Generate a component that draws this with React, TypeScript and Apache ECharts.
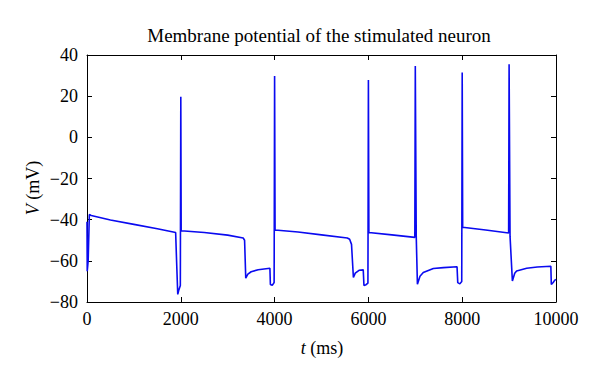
import React, { useEffect, useRef } from "react";
import * as echarts from "echarts";

const title = "Membrane potential of the stimulated neuron";
const xTicks = [0, 2000, 4000, 6000, 8000, 10000];
const yTicks = [-80, -60, -40, -20, 0, 20, 40];

// time (ms)
const timeMs = [
  0, 5, 25, 50, 90, 500, 1000, 1500, 1890, 1910, 1935, 1960, 1990, 2000, 2008,
  2500, 3000, 3330, 3360, 3385, 3430, 3500, 3650, 3900, 3910, 3950, 3990, 4000, 4010,
  4500, 5000, 5550, 5600, 5640, 5680, 5720, 5800, 5890, 5905, 5950, 5990, 6000, 6010,
  6500, 6990, 7000, 7020, 7045, 7100, 7170, 7385, 7600, 7890, 7905, 7950, 7990, 8000, 8010,
  8500, 8990, 9000, 9020, 9070, 9120, 9160, 9375, 9600, 9890, 9900, 9940, 9970, 10000,
];
// membrane potential (mV)
const potentialMv = [
  -41, -65, -60, -37.5, -38, -40.2, -42.3, -44.4, -46.2, -60, -76.3, -74, -72, 19.7, -45.4,
  -46.2, -47.5, -48.9, -50, -68.4, -66.5, -65.3, -64.3, -63.6, -71.5, -71.9, -70.5, 29.8, -45,
  -46, -47.4, -48.9, -49.5, -52, -68.1, -66, -64.6, -64.4, -72, -71.6, -70.8, 27.8, -46.2,
  -47.4, -48.6, 34.6, -48, -71.4, -67.5, -65.7, -63.7, -63.3, -62.9, -70.6, -71.2, -70, 31.5, -43.7,
  -45, -46.5, 35.5, -48, -69.8, -66, -64.9, -63.6, -63, -62.6, -71.5, -70.5, -69.5, -69,
];

const FONT = "Liberation Serif";

export default function App() {
  const ref = useRef<HTMLDivElement>(null);
  useEffect(() => {
    if (!ref.current) return;
    const chart = echarts.init(ref.current, null, { renderer: "svg" });
    const data = timeMs.map((t, i) => [t, potentialMv[i]]);
    const axisCommon = {
      axisLine: { show: true, onZero: false, lineStyle: { color: "#000", width: 1 } },
      axisTick: { show: true, inside: true, length: 5, lineStyle: { color: "#000" } },
      splitLine: { show: false },
    };
    chart.setOption({
      animation: false,
      backgroundColor: "#fff",
      textStyle: { fontFamily: FONT },
      grid: { left: 87, right: 44, top: 55, bottom: 75 },
      xAxis: [
        {
          type: "value", min: 0, max: 10000, interval: 2000, position: "bottom",
          ...axisCommon,
          axisLabel: {
            show: true, margin: 8, color: "#000", fontFamily: FONT, fontSize: 18,
            formatter: (v: number) => (xTicks.includes(v) ? String(v) : ""),
          },
        },
        {
          type: "value", min: 0, max: 10000, interval: 2000, position: "top",
          ...axisCommon, axisLabel: { show: false },
        },
      ],
      yAxis: [
        {
          type: "value", min: -80, max: 40, interval: 20, position: "left",
          ...axisCommon,
          axisLabel: {
            show: true, margin: 9, color: "#000", fontFamily: FONT, fontSize: 18,
            formatter: (v: number) => (yTicks.includes(v) ? String(v).replace("-", "\u2212") : ""),
          },
        },
        {
          type: "value", min: -80, max: 40, interval: 20, position: "right",
          ...axisCommon, axisLabel: { show: false },
        },
      ],
      graphic: [
        {
          type: "text", x: 319, y: 35,
          style: { text: title, font: `19px "${FONT}"`, fill: "#000", align: "center", verticalAlign: "middle",
            textAlign: "center", textVerticalAlign: "middle" },
        },
        {
          type: "text", x: 322, y: 348,
          style: {
            text: "{i|t} (ms)", fill: "#000", font: `18px "${FONT}"`,
            align: "center", verticalAlign: "middle", textAlign: "center", textVerticalAlign: "middle",
            rich: { i: { fontStyle: "italic", fontFamily: FONT, fontSize: 18 } },
          },
        },
        {
          type: "text", x: 33, y: 188, rotation: Math.PI / 2,
          style: {
            text: "{i|V} (mV)", fill: "#000", font: `18px "${FONT}"`,
            align: "center", verticalAlign: "middle", textAlign: "center", textVerticalAlign: "middle",
            rich: { i: { fontStyle: "italic", fontFamily: FONT, fontSize: 18 } },
          },
        },
      ],
      series: [
        {
          type: "line", data, showSymbol: false, symbol: "none",
          lineStyle: { color: "#0a0af0", width: 1.6 },
          xAxisIndex: 0, yAxisIndex: 0,
        },
      ],
    });
    return () => chart.dispose();
  }, []);
  return <div ref={ref} style={{ width: 600, height: 377, position: "absolute", left: 0, top: 0 }} />;
}
